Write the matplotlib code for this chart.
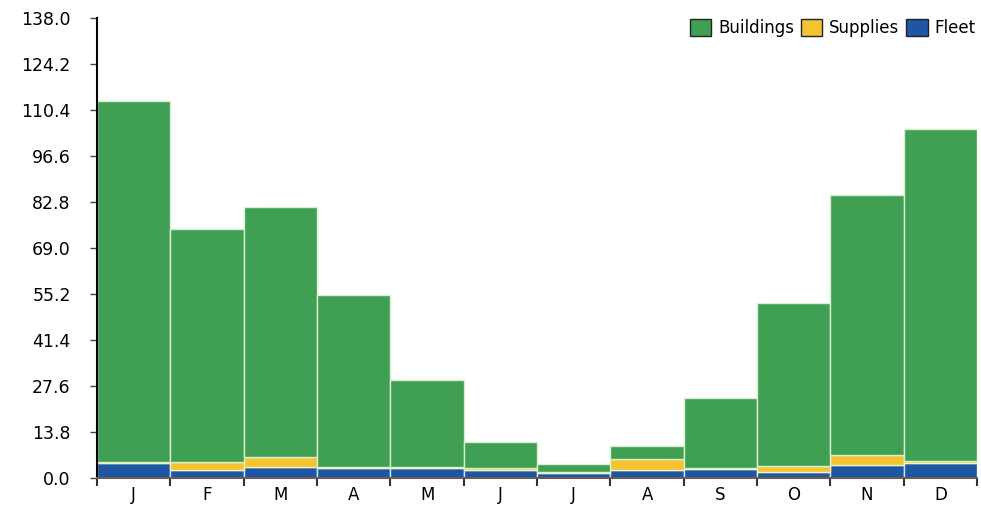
import matplotlib
matplotlib.use('Agg')
import matplotlib.pyplot as plt
import numpy as np

months = ['J', 'F', 'M', 'A', 'M', 'J', 'J', 'A', 'S', 'O', 'N', 'D']
fleet = [4.4, 2.4, 3.4, 2.9, 2.9, 2.4, 1.4, 2.4, 2.6, 1.9, 3.9, 4.6]
supplies = [0.4, 2.5, 2.8, 0.3, 0.3, 0.5, 0.4, 3.3, 0.3, 1.8, 3.0, 0.4]
totals = [113.1, 74.7, 81.3, 54.9, 29.4, 10.8, 4.2, 9.6, 24.0, 52.5, 84.9, 104.7]
buildings = [t - f - s for t, f, s in zip(totals, fleet, supplies)]
yticks = [0.0, 13.8, 27.6, 41.4, 55.2, 69.0, 82.8, 96.6, 110.4, 124.2, 138.0]

green = '#3f9f52'
yellow = '#f4c430'
blue = '#1d57a3'

fig = plt.figure(figsize=(9.81, 5.08), dpi=100)
ax = fig.add_axes([0.099, 0.059, 0.897, 0.906])

x = np.arange(len(months))
bottom2 = [f + s for f, s in zip(fleet, supplies)]
ax.bar(x, fleet, width=1.0, color=blue, edgecolor='#c8e8f0', linewidth=1, label='Fleet')
ax.bar(x, supplies, width=1.0, bottom=fleet, color=yellow, edgecolor='#f8f0c0', linewidth=1, label='Supplies')
ax.bar(x, buildings, width=1.0, bottom=bottom2, color=green, edgecolor='#d8f0d0', linewidth=1, label='Buildings')

ax.set_xlim(-0.5, 11.5)
ax.set_ylim(0, 138)
ax.set_yticks(yticks)
ax.set_yticklabels(['%.1f' % v for v in yticks], fontsize=12.5)
ax.set_xticks(x)
ax.set_xticklabels(months, fontsize=12)
ax.tick_params(axis='x', length=0, pad=6)
ax.set_xticks(np.arange(-0.5, 12, 1), minor=True)
ax.tick_params(axis='x', which='minor', length=6, width=1.5, color='#333333')
ax.tick_params(axis='y', length=5, width=1, pad=14, color='#444444')

ax.spines['top'].set_visible(False)
ax.spines['right'].set_visible(False)
ax.spines['left'].set_linewidth(1.5)
ax.spines['bottom'].set_color('#6a5a58')
ax.spines['bottom'].set_linewidth(1.5)

h, l = ax.get_legend_handles_labels()
leg = ax.legend(h[::-1], l[::-1], loc='upper right', ncol=3, frameon=False,
                fontsize=12, handlelength=1.3, handleheight=1.2, handletextpad=0.4,
                columnspacing=0.4, borderaxespad=0.0, borderpad=0.0,
                bbox_to_anchor=(0.998, 0.997))
for p in leg.get_patches():
    p.set_edgecolor('#222222')

fig.savefig('out.png', dpi=100)
